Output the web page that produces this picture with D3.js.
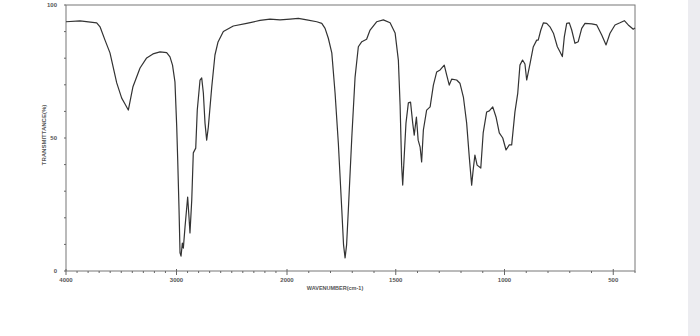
<!DOCTYPE html>
<html>
<head>
<meta charset="utf-8">
<script src="https://cdn.jsdelivr.net/npm/d3@7"></script>
<style>
  body { margin: 0; background: #fff; }
  text { font-family: "Liberation Sans", Arial, sans-serif; fill: #555; }
</style>
</head>
<body>
<div id="chart"></div>
<script>
// wavenumber (cm-1), left to right
var wavenumbers = [4000, 3873, 3722, 3692, 3647, 3602, 3541, 3496, 3466, 3436,
    3394, 3330, 3270, 3213, 3149, 3089, 3059, 3036, 3014, 2998,
    2989, 2977, 2968, 2959, 2947, 2938, 2923, 2899, 2887, 2878,
    2862, 2848, 2826, 2812, 2787, 2772, 2757, 2742, 2727, 2712,
    2681, 2652, 2624, 2576, 2486, 2365, 2244, 2154, 2063, 1986,
    1948, 1909, 1863, 1840, 1825, 1810, 1794, 1779, 1764, 1748,
    1740, 1733, 1726, 1718, 1702, 1687, 1672, 1656, 1634, 1618,
    1588, 1557, 1526, 1503, 1488, 1480, 1473, 1468, 1462, 1453,
    1442, 1432, 1422, 1415, 1405, 1397, 1388, 1381, 1373, 1358,
    1342, 1327, 1312, 1296, 1277, 1266, 1254, 1243, 1220, 1205,
    1189, 1174, 1162, 1151, 1144, 1136, 1126, 1109, 1098, 1082,
    1070, 1054, 1039, 1024, 1008, 993, 978, 967, 952, 939,
    929, 917, 906, 898, 883, 868, 852, 845, 833, 821,
    806, 791, 775, 757, 745, 734, 725, 714, 702, 691,
    676, 661, 645, 630, 599, 576, 553, 533, 515, 492,
    469, 449, 431, 408, 400];
// transmittance (%)
var transmittance = [93.7, 94.0, 93.3, 91.8, 86.8, 82.0, 70.7, 65.0, 62.8, 60.5,
    69.3, 76.3, 80.1, 81.6, 82.4, 82.1, 80.5, 77.4, 71.1, 54.2,
    41.7, 22.9, 6.8, 5.6, 10.5, 8.6, 16.5, 27.8, 20.3, 14.3,
    26.7, 44.4, 46.2, 60.5, 71.8, 72.6, 66.9, 55.6, 49.2, 54.1,
    69.2, 81.2, 86.1, 90.0, 92.1, 93.1, 94.2, 94.7, 94.4, 94.7,
    95.0, 94.4, 93.7, 93.1, 91.2, 87.5, 82.0, 66.9, 48.1, 22.9,
    9.8, 4.9, 9.8, 22.9, 50.4, 72.9, 84.3, 86.2, 87.1, 90.6,
    93.7, 94.4, 93.3, 89.5, 79.3, 62.4, 39.8, 32.3, 41.7, 55.6,
    63.2, 63.5, 55.6, 51.1, 57.9, 49.2, 46.6, 41.0, 53.0, 60.5,
    61.7, 69.9, 74.8, 75.6, 77.4, 73.7, 69.9, 72.1, 71.8, 70.6,
    65.4, 55.6, 42.9, 32.3, 38.0, 43.6, 39.8, 38.7, 51.9, 59.8,
    60.2, 61.7, 57.9, 51.9, 50.0, 45.5, 47.4, 47.4, 59.8, 66.9,
    77.4, 79.3, 77.8, 71.8, 77.8, 84.2, 86.8, 86.8, 90.6, 93.3,
    93.1, 91.8, 89.4, 84.3, 82.4, 80.6, 88.0, 93.1, 93.3, 90.6,
    85.6, 86.2, 91.2, 93.1, 92.9, 92.5, 88.7, 85.0, 89.4, 92.5,
    93.3, 94.1, 92.5, 90.9, 91.4];

var xTickLabels = [4000, 3000, 2000, 1500, 1000, 500];
var yTickLabels = [0, 50, 100];

var width = 700, height = 336;
var margin = {top: 5, right: 65, bottom: 65, left: 66};

var svg = d3.select("#chart")
    .append("svg")
        .attr("width", width)
        .attr("height", height);

// grey strip down the right edge of the screenshot
svg.append("rect")
    .attr("x", 688).attr("y", 0)
    .attr("width", 12).attr("height", height)
    .attr("fill", "#ececf0");

// scale is doubled below 2000 cm-1, like the instrument chart
var x = d3.scaleLinear()
    .domain([4000, 2000, 400])
    .range([margin.left, 287, width - margin.right]);
var y = d3.scaleLinear()
    .domain([0, 100])
    .range([height - margin.bottom, margin.top]);

var x0 = x(4000), x1 = x(400), y0 = y(0), y1 = y(100);

// frame
svg.append("rect")
    .attr("x", x0).attr("y", y1)
    .attr("width", x1 - x0).attr("height", y0 - y1)
    .attr("fill", "none")
    .attr("stroke", "#777")
    .attr("stroke-width", 1);

// x ticks every 100, bigger at the labelled ones
var xticks = d3.range(4000, 399, -100);
svg.append("g").selectAll("line")
    .data(xticks)
    .enter().append("line")
        .attr("x1", d => x(d)).attr("x2", d => x(d))
        .attr("y1", d => xTickLabels.includes(d) ? y0 - 2 : y0)
        .attr("y2", d => xTickLabels.includes(d) ? y0 + 4 : y0 + 2)
        .attr("stroke", "#666");

svg.append("g").selectAll("text")
    .data(xTickLabels)
    .enter().append("text")
        .text(d => d)
        .attr("x", d => x(d))
        .attr("y", y0 + 11)
        .attr("text-anchor", "middle")
        .style("font-size", "6px")
        .style("font-weight", "bold");

// y ticks every 10
svg.append("g").selectAll("line")
    .data(d3.range(0, 101, 10))
    .enter().append("line")
        .attr("x1", x0 - 2).attr("x2", x0)
        .attr("y1", d => y(d)).attr("y2", d => y(d))
        .attr("stroke", "#666");

svg.append("g").selectAll("text")
    .data(yTickLabels)
    .enter().append("text")
        .text(d => d)
        .attr("x", x0 - 9)
        .attr("y", d => y(d) + 2)
        .attr("text-anchor", "end")
        .style("font-size", "6px")
        .style("font-weight", "bold");

// axis titles
svg.append("text")
    .text("TRANSMITTANCE(%)")
    .attr("transform", "translate(46,135) rotate(-90)")
    .attr("text-anchor", "middle")
    .style("font-size", "6px")
    .style("font-weight", "bold");

svg.append("text")
    .text("WAVENUMBER(cm-1)")
    .attr("x", 335)
    .attr("y", y0 + 19)
    .attr("text-anchor", "middle")
    .style("font-size", "5.5px")
    .style("font-weight", "bold");

// spectrum
var pts = wavenumbers.map((w, i) => [w, transmittance[i]]);
var line = d3.line()
    .x(d => x(d[0]))
    .y(d => y(d[1]));

svg.append("path")
    .datum(pts)
    .attr("d", line)
    .attr("fill", "none")
    .attr("stroke", "#333")
    .attr("stroke-width", 1.2)
    .attr("stroke-linejoin", "round");
</script>
</body>
</html>
